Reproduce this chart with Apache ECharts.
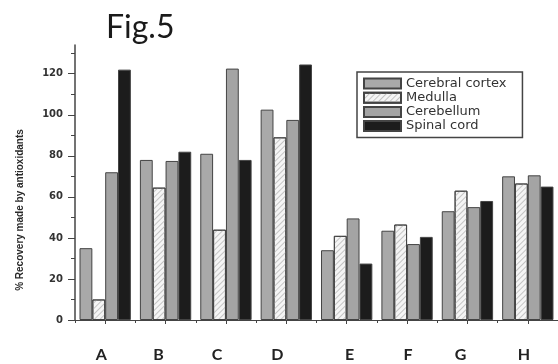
<!DOCTYPE html>
<html>
<head>
<meta charset="utf-8">
<script src="https://cdn.jsdelivr.net/npm/echarts@6/dist/echarts.min.js"></script>
<style>
html,body{margin:0;padding:0;background:#fff;}
#chart{width:558px;height:364px;}
</style>
</head>
<body>
<div id="chart"></div>
<script>
const categories = ['A','B','C','D','E','F','G','H'];
const seriesNames = ['Cerebral cortex','Medulla','Cerebellum','Spinal cord'];
const cerebralCortex = [35, 78, 81, 102.5, 34, 43.5, 53, 70];
const medulla = [10, 64.5, 44, 89, 41, 46.5, 63, 66.5];
const cerebellum = [72, 77.5, 122.5, 97.5, 49.5, 37, 55, 70.5];
const spinalCord = [122, 82, 78, 124.5, 27.5, 40.5, 58, 65];
const yTicks = [0, 20, 40, 60, 80, 100, 120];
const yMinorTicks = [10, 30, 50, 70, 90, 110, 130];

const values = [cerebralCortex, medulla, cerebellum, spinalCord];
const labelShift = [-4, -7, -9, -9, 3, 1, -7, -4];

const chart = echarts.init(document.getElementById('chart'), null, {renderer: 'canvas'});

const fills = ['#a9a9a9', '#f5f5f5', '#a4a4a4', '#1c1c1c'];
const decals = [
  null,
  {symbol: 'rect', color: '#c4c4c4', dashArrayX: [1, 0], dashArrayY: [1, 3], rotation: -Math.PI / 4, symbolSize: 1},
  null,
  null
];

const rich = {};
categories.forEach((c, i) => {
  const s = labelShift[i];
  rich['c' + i] = {
    fontFamily: 'Lato', fontSize: 16, fontWeight: 'bold', color: '#222',
    padding: s < 0 ? [0, -2 * s, 0, 0] : [0, 0, 0, 2 * s]
  };
});

const option = {
  backgroundColor: '#fff',
  animation: false,
  graphic: [
    {type: 'text', left: 106, top: 12, style: {text: 'Fig.5', font: '32px Lato', fill: '#1a1a1a'}},
    {type: 'text', x: 20, y: 210, rotation: Math.PI / 2,
     style: {text: '% Recovery made by antioxidants', font: 'bold 10px "Liberation Sans"', fill: '#2a2a2a',
             align: 'center', verticalAlign: 'middle'}}
  ],
  legend: {
    left: 357, top: 72, orient: 'vertical',
    icon: 'rect',
    itemWidth: 37, itemHeight: 10, itemGap: 1.2,
    padding: [5, 16, 5, 6],
    borderColor: '#444', borderWidth: 1.5, borderRadius: 0,
    textStyle: {fontFamily: 'DejaVu Sans', fontSize: 13, color: '#333', lineHeight: 12},
    data: seriesNames
  },
  grid: {left: 75, right: 0, top: 45, bottom: 44, containLabel: false},
  xAxis: [
    {
      type: 'category', data: categories,
      axisLine: {lineStyle: {color: '#444', width: 1.2}},
      axisTick: {show: true, length: 3, lineStyle: {color: '#444'}},
      axisLabel: {
        margin: 27,
        formatter: (v, i) => '{c' + i + '|' + v + '}',
        rich: rich
      }
    },
    {
      type: 'category', data: categories, position: 'bottom',
      axisLine: {show: false},
      axisTick: {show: true, alignWithLabel: true, length: 4, lineStyle: {color: '#444'}},
      axisLabel: {show: false}
    }
  ],
  yAxis: [
    {
      type: 'value', min: 0, max: 134, interval: 20,
      axisLine: {show: true, lineStyle: {color: '#444', width: 1.5}},
      axisTick: {show: true, length: 7, customValues: yTicks, lineStyle: {color: '#444'}},
      axisLabel: {customValues: yTicks, margin: 12, fontFamily: 'DejaVu Sans', fontSize: 10,
                  fontWeight: 'bold', color: '#333'},
      splitLine: {show: false}
    },
    {
      type: 'value', min: 0, max: 134, position: 'left',
      axisLine: {show: false},
      axisTick: {show: true, length: 4, customValues: yMinorTicks, lineStyle: {color: '#444'}},
      axisLabel: {show: false},
      splitLine: {show: false}
    }
  ],
  series: seriesNames.map((name, k) => ({
    name: name,
    type: 'bar',
    xAxisIndex: 0,
    yAxisIndex: 0,
    data: values[k],
    barGap: '0%',
    barCategoryGap: '15%',
    itemStyle: {
      color: fills[k],
      borderColor: '#444',
      borderWidth: 1,
      decal: decals[k] || undefined
    }
  }))
};
chart.setOption(option);
</script>
</body>
</html>
